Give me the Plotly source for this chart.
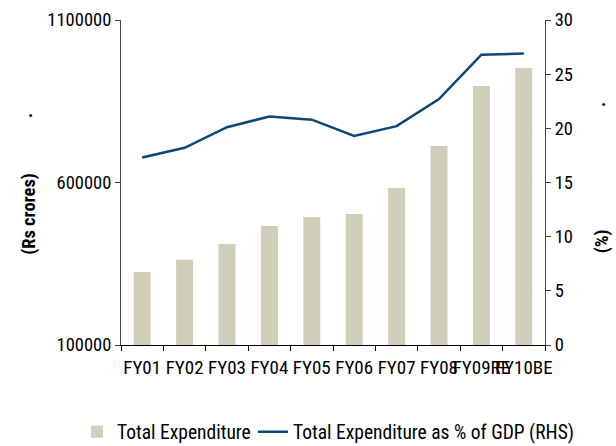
import plotly.graph_objects as go

categories = ["FY01", "FY02", "FY03", "FY04", "FY05", "FY06", "FY07", "FY08", "FY09RE", "FY10BE"]
total_expenditure = [325000, 362000, 411000, 466000, 494000, 503000, 583000, 712000, 897000, 952000]
pct_of_gdp = [17.3, 18.2, 20.1, 21.1, 20.8, 19.3, 20.2, 22.7, 26.8, 26.9]
left_ticks = [100000, 600000, 1100000]
right_ticks = [0, 5, 10, 15, 20, 25, 30]

FONT = "Roboto Condensed, DejaVu Sans Condensed, sans-serif"
BAR_COLOR = "#D0CDBB"
LINE_COLOR = "#0E4677"
FS = 18.5
FS_X = 19
FS_LEG = 19.5

fig = go.Figure()
fig.add_trace(go.Bar(
    x=categories, y=total_expenditure, name="Total Expenditure",
    marker=dict(color=BAR_COLOR, line=dict(width=0)), width=0.4, yaxis="y",
    legend="legend",
))
fig.add_trace(go.Scatter(
    x=categories, y=pct_of_gdp, name="Total Expenditure as % of GDP (RHS)",
    mode="lines", line=dict(color=LINE_COLOR, width=2.5), yaxis="y2",
    legend="legend2",
))

legend_common = dict(orientation="h", xref="container", yref="container",
                     xanchor="left", y=0.031, yanchor="middle",
                     font=dict(size=FS_LEG), bgcolor="rgba(0,0,0,0)")

fig.update_layout(
    width=616, height=446,
    margin=dict(l=121, r=71, t=20, b=101, autoexpand=False),
    paper_bgcolor="white", plot_bgcolor="white",
    font=dict(family=FONT, size=FS, color="black"),
    showlegend=True,
    legend=dict(x=77 / 616, **legend_common),
    legend2=dict(x=253 / 616, **legend_common),
    xaxis=dict(
        type="category", range=[-0.5, 9.5], showline=True, linecolor="black", linewidth=1,
        ticks="outside", ticklen=5, tickcolor="black", tickson="boundaries",
        tickangle=0, showgrid=False, zeroline=False, automargin=False,
        tickfont=dict(size=FS_X), ticklabelstandoff=5,
    ),
    yaxis=dict(
        range=[100000, 1100000], tickvals=left_ticks, ticktext=[str(v) for v in left_ticks],
        showline=True, linecolor="#444444", linewidth=1, ticks="outside", ticklen=5,
        tickcolor="#444444", showgrid=False, zeroline=False, automargin=False,
    ),
    yaxis2=dict(
        range=[0, 30], tickvals=right_ticks, overlaying="y", side="right",
        showline=True, linecolor="#444444", linewidth=1, ticks="outside", ticklen=5,
        tickcolor="#444444", showgrid=False, zeroline=False, automargin=False,
    ),
    annotations=[
        dict(text="<b>(Rs crores)</b>", textangle=-90, xref="paper", yref="paper",
             x=-0.216, y=0.405, xanchor="center", yanchor="middle", showarrow=False,
             font=dict(size=FS)),
        dict(text="<b>.</b>", xref="paper", yref="paper", x=-0.214, y=0.72,
             xanchor="center", yanchor="middle", showarrow=False, font=dict(size=FS)),
        dict(text="<b>(%)</b>", textangle=-90, xref="paper", yref="paper",
             x=1.135, y=0.32, xanchor="center", yanchor="middle", showarrow=False,
             font=dict(size=FS)),
        dict(text="<b>.</b>", xref="paper", yref="paper", x=1.137, y=0.755,
             xanchor="center", yanchor="middle", showarrow=False, font=dict(size=FS)),
    ],
)

fig.write_html(
    "out.html",
    config={"displayModeBar": False},
    post_script="document.body.style.margin='0';document.body.style.overflow='hidden';",
)
